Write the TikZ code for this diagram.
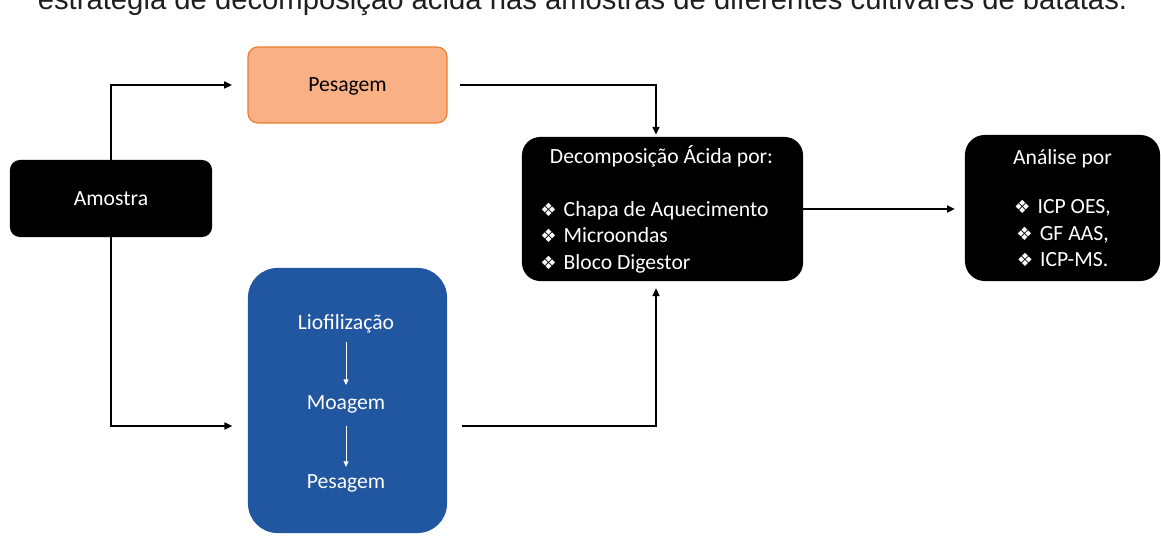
\documentclass[tikz,border=0pt]{standalone}
\usepackage{fontspec}
\setmainfont{Carlito}
\newfontfamily\titlefont{Liberation Sans}
\newfontfamily\symfont{DejaVu Sans}
\usetikzlibrary{positioning, calc, arrows.meta}

\definecolor{peach}{HTML}{F8B084}
\definecolor{peachline}{HTML}{ED7D31}
\definecolor{prepblue}{HTML}{2156A0}
\newcommand{\losango}{{\symfont\fontsize{13}{13}\selectfont ❖}\hspace{5pt}}

\begin{document}
\begin{tikzpicture}[
    x=0.025cm, y=-0.025cm,
    boxtext/.style={font=\fontsize{15.4}{18.8}\selectfont, inner sep=0pt},
    darkbox/.style={rectangle, fill=black, text=white, rounded corners=7pt, boxtext},
    peachbox/.style={rectangle, fill=peach, draw=peachline, line width=0.8pt, rounded corners=7pt, boxtext, text depth=0pt},
    bluebox/.style={rectangle, fill=prepblue, rounded corners=21pt},
    steptext/.style={boxtext, text=white},
    flow/.style={-{Triangle[length=5.5pt, width=5pt]}, line width=1.1pt},
    whiteflow/.style={-{Triangle[length=4pt, width=3.5pt]}, white, line width=0.6pt}
]
\useasboundingbox (0,0) rectangle (1161,544);

% title line, cut at the top edge
\node[anchor=base, font=\titlefont\fontsize{20.8}{24}\selectfont, text=black!88, inner sep=0pt] (titulo) at (582.5,9.5)
    {estratégia de decomposição ácida nas amostras de diferentes cultivares de batatas.};

% boxes
\node[darkbox, minimum width=5.05cm, minimum height=1.925cm] (amostra) at (111,198.5) {Amostra};
\node[peachbox, minimum width=4.975cm, minimum height=1.9cm] (pesagem) at (347.5,85) {Pesagem};
\node[bluebox, minimum width=4.975cm, minimum height=6.625cm] (preparo) at (347.5,400.5) {};
\node[darkbox, rounded corners=13pt, minimum width=7.025cm, minimum height=3.6cm] (decomp) at (662.5,209) {};
\node[darkbox, rounded corners=14pt, minimum width=4.875cm, minimum height=3.65cm, align=center] (analise) at (1062.5,208)
    {Análise por\\[16.5pt]
     \losango ICP OES,\\
     \losango GF AAS,\\
     \losango ICP-MS.};

% text in the decomposition box
\node[steptext] (decomphead) at (661.5,156) {Decomposição Ácida por:};
\node[steptext, align=left, anchor=west] (decomplist) at (540,237)
    {\losango Chapa de Aquecimento\\
     \losango Microondas\\
     \losango Bloco Digestor};

% steps of the sample preparation
\node[steptext] (liof) at (346,324) {Liofilização};
\node[steptext] (moag) at (346,404) {Moagem};
\node[steptext] (pes2) at (346,483) {Pesagem};
\draw[whiteflow, shorten <=6.2pt, shorten >=7pt] (liof.south) -- (moag.north);
\draw[whiteflow, shorten <=9.4pt, shorten >=5pt] (moag.south) -- (pes2.north);

% connectors
\draw[flow, shorten >=11pt] (amostra.north) |- (pesagem.west);
\draw[flow, shorten >=11pt] (amostra.south) |- ($(preparo.west)+(0,25.5)$);
\draw[flow, shorten <=8.5pt, shorten >=1.5pt] (pesagem.east) -| ($(decomp.north)+(-6.5,0)$);
\draw[flow, shorten <=10.5pt, shorten >=5pt] ($(preparo.east)+(0,25.5)$) -| ($(decomp.south)+(-6.5,0)$);
\draw[flow, shorten >=7pt] (decomp.east) -- (decomp.east -| analise.west);

\end{tikzpicture}
\end{document}
